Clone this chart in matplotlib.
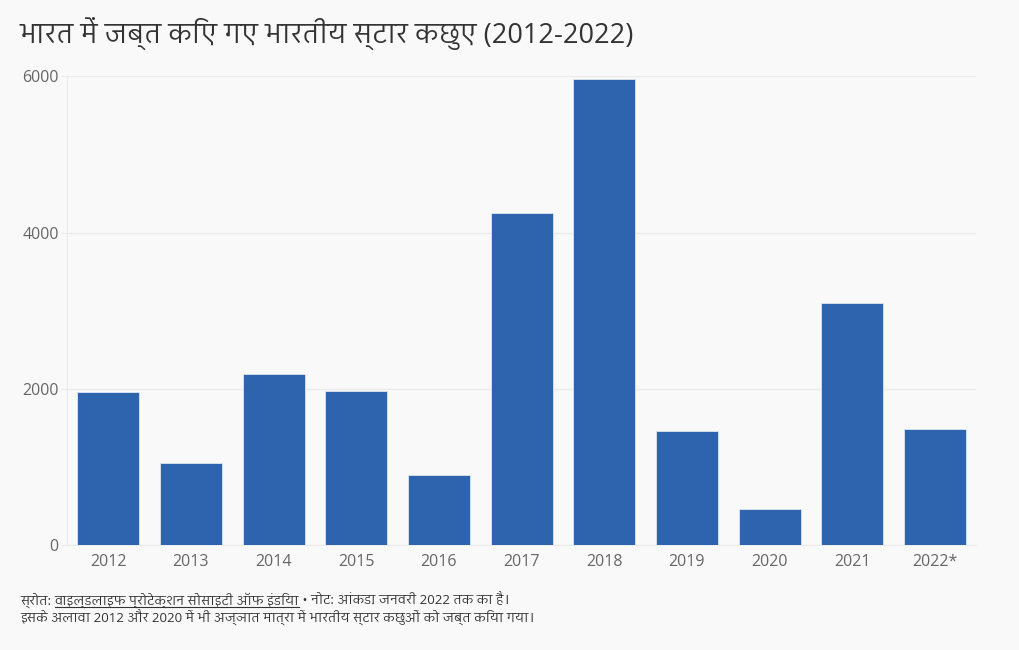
import matplotlib
matplotlib.use('Agg')
import matplotlib.pyplot as plt
from matplotlib import font_manager
from matplotlib.ft2font import FT2Font

years = ['2012', '2013', '2014', '2015', '2016', '2017', '2018', '2019', '2020', '2021', '2022*']
seized = [1960, 1050, 2190, 1980, 900, 4250, 5960, 1460, 470, 3100, 1490]
yticks = [0, 2000, 4000, 6000]

title = 'भारत में जब्त किए गए भारतीय स्टार कछुए (2012-2022)'
src_label = 'स्रोत: '
src_name = 'वाइल्डलाइफ प्रोटेक्शन सोसाइटी ऑफ इंडिया'
note = ' • नोट: आंकड़ा जनवरी 2022 तक का है।'
note2 = 'इसके अलावा 2012 और 2020 में भी अज्ञात मात्रा में भारतीय स्टार कछुओं को जब्त किया गया।'


def find_font(ch):
    # collect installed fonts that have the devanagari glyph, prefer proportional sans ones
    found = []
    seen = set()
    for f in font_manager.fontManager.ttflist:
        if f.name in seen:
            continue
        seen.add(f.name)
        try:
            if ord(ch) in FT2Font(f.fname).get_charmap():
                found.append(f.name)
        except Exception:
            pass
    if not found:
        return None

    def score(n):
        s = 0
        if 'Devanagari' in n:
            s -= 4
        if 'Sans' in n:
            s -= 2
        if 'Mono' in n or 'Code' in n or 'Unifont' in n:
            s += 5
        return s
    found.sort(key=score)
    return found[0]


deva = find_font('क')
fams = ['Open Sans'] + ([deva] if deva else []) + ['DejaVu Sans']
plt.rcParams['font.family'] = fams

bg = '#f9f9f9'
bar_color = '#2e63ae'
grid_color = '#ebebeb'

fig = plt.figure(figsize=(10.2, 6.5), dpi=100, facecolor=bg)
ax = fig.add_axes([0.0657, 0.1608, 0.8913, 0.7222], facecolor=bg)

x = range(len(years))
ax.bar(x, seized, width=0.75, color=bar_color, edgecolor='#dde5f0', linewidth=0.6, zorder=3)

ax.set_xlim(-0.5, len(years) - 0.5)
ax.set_ylim(0, 6000)
ax.set_yticks(yticks)
ax.set_yticklabels([str(t) for t in yticks])
ax.set_xticks(list(x))
ax.set_xticklabels(years)
ax.tick_params(axis='y', length=4, color=grid_color, labelsize=11.5, labelcolor='#666666', pad=2)
ax.tick_params(axis='x', length=0, labelsize=11.5, labelcolor='#666666', pad=6)
ax.grid(axis='y', color=grid_color, linewidth=1, zorder=0)
for s in ['top', 'right']:
    ax.spines[s].set_visible(False)
ax.spines['left'].set_color(grid_color)
ax.spines['bottom'].set_color(grid_color)

fig.text(20 / 1020, 1 - 34 / 650, title, fontsize=19.5, color='#333333', va='center', ha='left')

# footer: source line with underlined name, drawn piece by piece
renderer = fig.canvas.get_renderer()
W, H = fig.get_size_inches() * fig.dpi
y1 = 1 - 600 / 650
xpos = 20
pieces = [(src_label, False), (src_name, True), (note, False)]
for txt, underline in pieces:
    t = fig.text(xpos / W, y1, txt, fontsize=9.5, color='#333333', va='center', ha='left')
    bb = t.get_window_extent(renderer)
    if underline:
        uy = (bb.y0 + 1) / H
        fig.add_artist(plt.Line2D([bb.x0 / W, bb.x1 / W], [uy, uy], transform=fig.transFigure,
                                  color='#333333', linewidth=0.8))
    xpos = bb.x1
fig.text(20 / W, 1 - 618 / 650, note2, fontsize=9.5, color='#333333', va='center', ha='left')

fig.savefig('out.png', dpi=100, facecolor=bg)
